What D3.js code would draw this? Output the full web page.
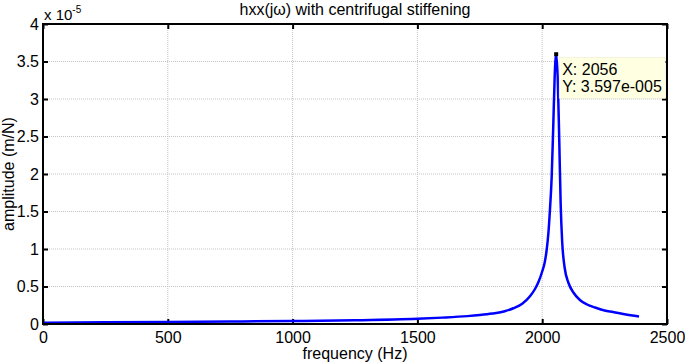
<!DOCTYPE html>
<html><head><meta charset="utf-8">
<script src="https://cdn.jsdelivr.net/npm/d3@7"></script>
<style>body{margin:0;background:#fff}svg{display:block;font-family:"Liberation Sans",Arial,sans-serif}</style>
</head><body><svg id="c" width="685" height="362"></svg>
<script>
const freq = [0,250,500,750,1000,1250,1500,1600,1700,1750,1800,1850,1884,1920,1951,1970,1985,2000,2010,2018,2025,2031,2038,2044,2050,2056,2062,2068,2074,2080,2090,2105,2125,2151,2180,2212,2250,2284,2330,2388];
const amp  = [0.018,0.022,0.027,0.033,0.04,0.05,0.07,0.085,0.105,0.12,0.14,0.17,0.21,0.27,0.37,0.46,0.56,0.70,0.82,0.99,1.22,1.52,1.96,2.6,3.3,3.597,3.3,2.5,1.6,1.1,0.75,0.55,0.42,0.32,0.26,0.22,0.18,0.16,0.13,0.10];
const xTicks = [0,500,1000,1500,2000,2500];
const xTickLabels = ["0","500","1000","1500","2000","2500"];
const yTicks = [0,0.5,1,1.5,2,2.5,3,3.5,4];
const yTickLabels = ["0","0.5","1","1.5","2","2.5","3","3.5","4"];
const titleText = "hxx(jω) with centrifugal stiffening";
const xLabel = "frequency (Hz)";
const yLabel = "amplitude (m/N)";
const tipX = 2056, tipY = 3.597;
const tipLines = ["X: 2056","Y: 3.597e-005"];

const L=43,R=667,T=24,B=324;
const FS="16px";
const svg=d3.select("#c");
const x=d3.scaleLinear().domain([0,2500]).range([L,R]);
const y=d3.scaleLinear().domain([0,4]).range([B,T]);

// grid
const g=svg.append("g");
g.selectAll(".gx").data(xTicks.slice(1,-1)).enter().append("line")
 .attr("x1",d=>x(d)).attr("x2",d=>x(d)).attr("y1",T).attr("y2",B)
 .attr("stroke","#c4c4c4").attr("stroke-width",1).attr("stroke-dasharray","1,1");
g.selectAll(".gy").data(yTicks.slice(1,-1)).enter().append("line")
 .attr("y1",d=>y(d)).attr("y2",d=>y(d)).attr("x1",L).attr("x2",R)
 .attr("stroke","#c4c4c4").attr("stroke-width",1).attr("stroke-dasharray","1,1");

// axes
const ax=d3.axisBottom(x).tickValues(xTicks).tickSizeInner(-5).tickSizeOuter(0).tickPadding(8).tickFormat((d,i)=>xTickLabels[i]);
const axT=d3.axisTop(x).tickValues(xTicks).tickSizeInner(-5).tickSizeOuter(0).tickFormat("");
const ay=d3.axisLeft(y).tickValues(yTicks).tickSizeInner(-5).tickSizeOuter(0).tickPadding(4).tickFormat((d,i)=>yTickLabels[i]);
const ayR=d3.axisRight(y).tickValues(yTicks).tickSizeInner(-5).tickSizeOuter(0).tickFormat("");
function style(sel){sel.select(".domain").remove();sel.selectAll("line").attr("stroke","#000").attr("stroke-width",2);sel.selectAll("text").attr("fill","#000").style("font-size",FS).style("font-family","Liberation Sans, Arial, sans-serif");}
svg.append("g").attr("transform",`translate(0,${B})`).call(ax).call(style);
svg.append("g").attr("transform",`translate(0,${T})`).call(axT).call(style);
svg.append("g").attr("transform",`translate(${L},0)`).call(ay).call(style);
svg.append("g").attr("transform",`translate(${R},0)`).call(ayR).call(style);

// data line
const pts=freq.map((f,i)=>[f,amp[i]]);
svg.append("path").datum(pts).attr("fill","none").attr("stroke","#0000ff").attr("stroke-width",2.5)
 .attr("stroke-linejoin","round")
 .attr("d",d3.line().x(d=>x(d[0])).y(d=>y(d[1])).curve(d3.curveMonotoneX));

// box
svg.append("rect").attr("x",L).attr("y",T).attr("width",R-L).attr("height",B-T)
 .attr("fill","none").attr("stroke","#000").attr("stroke-width",2);

// datatip
const tx=x(tipX), ty=y(tipY);
svg.append("rect").attr("x",tx+3).attr("y",ty+3).attr("width",106).attr("height",41).attr("fill","#ffffe1").attr("stroke","#e8e8d0").attr("stroke-width",0.5);
svg.append("rect").attr("x",tx-2).attr("y",ty-2).attr("width",4).attr("height",4).attr("fill","#000");
svg.selectAll(".tip").data(tipLines).enter().append("text").attr("x",tx+6).attr("y",(d,i)=>ty+21+i*17)
 .style("font-size",FS).attr("fill","#000").text(d=>d);

// title & labels
svg.append("text").attr("x",(L+R)/2).attr("y",15).attr("text-anchor","middle").style("font-size",FS).text(titleText);
svg.append("text").attr("x",(L+R)/2).attr("y",359).attr("text-anchor","middle").style("font-size",FS).text(xLabel);
svg.append("text").attr("transform",`translate(14,${(T+B)/2}) rotate(-90)`).attr("text-anchor","middle").style("font-size",FS).text(yLabel);
const ex=svg.append("text").attr("x",L+1).attr("y",20).style("font-size","15px");
ex.append("tspan").text("x 10");
ex.append("tspan").attr("dy",-7).style("font-size","10px").text("-5");
</script></body></html>
